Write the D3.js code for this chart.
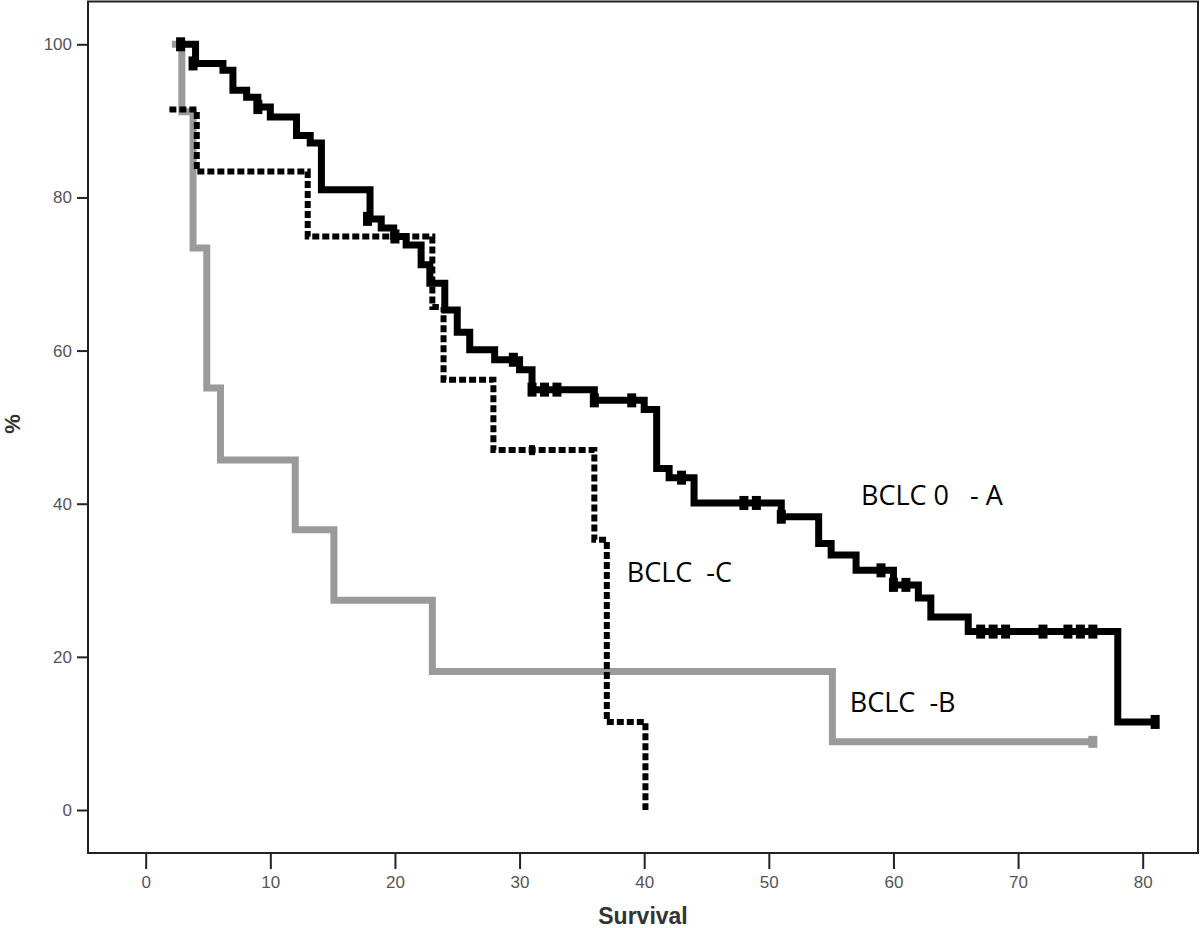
<!DOCTYPE html>
<html>
<head>
<meta charset="utf-8">
<script src="https://cdn.jsdelivr.net/npm/d3@7"></script>
<style>
  body { margin: 0; background: #fff; }
  svg { display: block; }
  .tick text { font-family: "Liberation Sans", Arial, sans-serif; font-size: 17px; fill: #555; }
  .tick line { stroke: #222; stroke-width: 2; }
  .curve-label { font-family: "Open Sans", "Noto Sans", sans-serif; font-size: 27px; fill: #000; white-space: pre; }
</style>
</head>
<body>
<script>
const width = 1200, height = 928;

// BCLC 0-A (solid black)
const timesA = [2.8, 4, 6.2, 7, 8.1, 9, 10, 12.1, 13.2, 14.1, 18, 18.9, 19.9, 20.9, 22.1, 22.8, 24, 25, 26, 28, 30, 31, 36, 40, 41, 42, 44, 51, 54, 55, 57, 60, 62, 63, 66, 78, 81];
const survA = [100, 97.5, 96.6, 94, 93.1, 91.8, 90.5, 88.1, 87.1, 81.0, 77.2, 76.0, 74.9, 73.8, 71.2, 68.8, 65.3, 62.4, 60.1, 58.8, 57.5, 54.9, 53.5, 52.3, 44.6, 43.4, 40.1, 38.3, 34.8, 33.3, 31.3, 29.4, 27.7, 25.2, 23.3, 11.5, 11.5];
const censorTimesA = [2.8, 3.8, 9, 17.8, 20, 29.5, 31, 32, 33, 36, 39, 43, 48, 49, 51, 59, 60, 61, 67, 68, 69, 72, 74, 75, 76, 81];
const censorSurvA = [100, 97.5, 91.8, 77.2, 74.9, 58.8, 54.9, 54.9, 54.9, 53.5, 53.5, 43.4, 40.1, 40.1, 38.3, 31.3, 29.4, 29.4, 23.3, 23.3, 23.3, 23.3, 23.3, 23.3, 23.3, 11.5];

// BCLC-B (grey)
const timesB = [2.1, 2.9, 3.8, 4.9, 6, 12, 15.1, 23, 55.1, 76];
const survB = [100, 91.2, 73.4, 55.1, 45.7, 36.6, 27.4, 18.1, 8.9, 8.9];
const censorTimesB = [76];
const censorSurvB = [8.9];

// BCLC-C (dashed black)
const timesC = [1.9, 4.1, 13, 23, 23.9, 27.9, 36, 37, 40.1, 40.1];
const survC = [91.5, 83.4, 74.9, 65.7, 56.2, 47.0, 35.3, 11.5, 0, 0];
const censorTimesC = [31];
const censorSurvC = [47.0];

const xTicks = [0, 10, 20, 30, 40, 50, 60, 70, 80];
const yTicks = [0, 20, 40, 60, 80, 100];

const labelNames = ["BCLC 0   - A", "BCLC  -C", "BCLC  -B"];
const labelTimes = [57.4, 38.6, 56.5];
const labelSurv = [39.8, 29.8, 12.8];

const x = d3.scaleLinear().domain([0, 80]).range([145.7, 1142.7]);
const y = d3.scaleLinear().domain([0, 100]).range([810, 44.3]);

const frame = { left: 88, top: 1.5, right: 1198, bottom: 853 };

const svg = d3.select("body").append("svg")
    .attr("width", width)
    .attr("height", height);

// frame
svg.append("rect")
    .attr("x", frame.left)
    .attr("y", frame.top)
    .attr("width", frame.right - frame.left)
    .attr("height", frame.bottom - frame.top)
    .attr("fill", "none")
    .attr("stroke", "#222")
    .attr("stroke-width", 2);

// axes
const yAxis = svg.append("g")
    .attr("transform", `translate(${frame.left},0)`)
    .call(d3.axisLeft(y).tickValues(yTicks).tickSize(11).tickPadding(5));
yAxis.select(".domain").remove();

const xAxis = svg.append("g")
    .attr("transform", `translate(0,${frame.bottom})`)
    .call(d3.axisBottom(x).tickValues(xTicks).tickSize(16).tickPadding(7));
xAxis.select(".domain").remove();

svg.append("text")
    .attr("x", (frame.left + frame.right) / 2)
    .attr("y", 924)
    .attr("text-anchor", "middle")
    .style("font-family", "'Liberation Sans', Arial, sans-serif")
    .style("font-weight", "bold")
    .style("font-size", "23px")
    .style("fill", "#333")
    .text("Survival");

svg.append("text")
    .attr("transform", "translate(20,424) rotate(-90)")
    .attr("text-anchor", "middle")
    .style("font-family", "'Liberation Sans', Arial, sans-serif")
    .style("font-weight", "bold")
    .style("font-size", "22px")
    .style("fill", "#333")
    .text("%");

const line = d3.line()
    .x(d => x(d[0]))
    .y(d => y(d[1]))
    .curve(d3.curveStepAfter);

function drawCurve(times, surv, color, widthPx, dash) {
    const pts = times.map((t, i) => [t, surv[i]]);
    svg.append("path")
        .datum(pts)
        .attr("d", line)
        .attr("fill", "none")
        .attr("stroke", color)
        .attr("stroke-width", widthPx)
        .attr("stroke-dasharray", dash)
        .attr("stroke-linejoin", "miter")
        .attr("stroke-linecap", "butt");
}

function drawCensors(times, surv, color, w, h) {
    svg.append("g").selectAll("rect")
        .data(times.map((t, i) => [t, surv[i]]))
        .enter().append("rect")
        .attr("x", d => x(d[0]) - w / 2)
        .attr("y", d => y(d[1]) - h / 2)
        .attr("width", w)
        .attr("height", h)
        .attr("fill", color);
}

drawCurve(timesB, survB, "#9a9a9a", 7, null);
drawCensors(censorTimesB, censorSurvB, "#9a9a9a", 9, 12);

drawCurve(timesC, survC, "#000", 6, "7,3");
drawCensors(censorTimesC, censorSurvC, "#000", 6, 10);

drawCurve(timesA, survA, "#000", 7, null);
drawCensors(censorTimesA, censorSurvA, "#000", 9, 14);

// curve labels
svg.append("g").selectAll("text")
    .data(labelNames)
    .enter().append("text")
    .attr("class", "curve-label")
    .attr("x", (d, i) => x(labelTimes[i]))
    .attr("y", (d, i) => y(labelSurv[i]))
    .text(d => d);
</script>
</body>
</html>
